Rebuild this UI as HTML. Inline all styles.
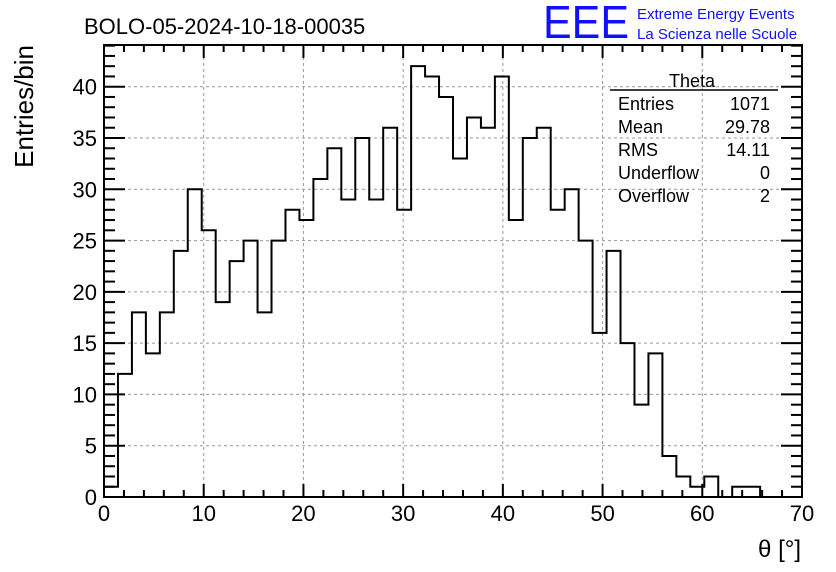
<!DOCTYPE html>
<html><head><meta charset="utf-8"><style>
body{margin:0;background:#fff}
svg{display:block;font-family:"Liberation Sans",sans-serif}
</style></head><body>
<svg id="c" width="836" height="572">
<rect width="836" height="572" fill="#fff"/>
<text x="84" y="34" font-size="22">BOLO-05-2024-10-18-00035</text>
<text x="543" y="38" font-size="46" fill="#1010ff" textLength="86" lengthAdjust="spacingAndGlyphs">EEE</text>
<text x="637" y="19" font-size="15" fill="#1010ff">Extreme Energy Events</text>
<text x="637" y="39" font-size="15" fill="#1010ff">La Scienza nelle Scuole</text>
<g id="grid"></g>
<g id="ticks"></g>
<path id="hist" fill="none" stroke="#000" stroke-width="2"/>
<rect x="104" y="45" width="698" height="452" fill="none" stroke="#000" stroke-width="2"/>
<text x="33" y="45" font-size="26" transform="rotate(-90 33 45)" text-anchor="end">Entries/bin</text>
<text x="801" y="557" font-size="24" text-anchor="end">θ [°]</text>
<g font-size="18">
<line x1="610" y1="90" x2="778" y2="90" stroke="#000" stroke-width="1.5"/>
<text x="692" y="87" text-anchor="middle">Theta</text>
<text x="618" y="110">Entries</text><text x="770" y="110" text-anchor="end">1071</text>
<text x="618" y="133">Mean</text><text x="770" y="133" text-anchor="end">29.78</text>
<text x="618" y="156">RMS</text><text x="770" y="156" text-anchor="end">14.11</text>
<text x="618" y="179">Underflow</text><text x="770" y="179" text-anchor="end">0</text>
<text x="618" y="202">Overflow</text><text x="770" y="202" text-anchor="end">2</text>
</g>
</svg>
<script>
const binWidth = 1.4;
const counts = [1,12,18,14,18,24,30,26,19,23,25,18,25,28,27,31,34,29,35,29,36,28,42,41,39,33,37,36,41,27,35,36,28,30,25,16,24,15,9,14,4,2,1,2,0,1,1];
const xTicks = [0,10,20,30,40,50,60,70];
const yTicks = [0,5,10,15,20,25,30,35,40];
const X0=104,X1=802,Y0=497,Y1=86.7;
const xs=v=>X0+(X1-X0)*v/70;
const ys=v=>Y0+(Y1-Y0)*v/40;
const NS='http://www.w3.org/2000/svg';
const svg=document.getElementById('c');
const grid=document.getElementById('grid'), tk=document.getElementById('ticks');
function mk(tag,attrs,parent){const e=document.createElementNS(NS,tag);for(const k in attrs)e.setAttribute(k,attrs[k]);parent.appendChild(e);return e;}
xTicks.forEach(t=>{
  const x=xs(t);
  if(t>0&&t<70){const g=mk('line',{x1:x,x2:x,y1:45,y2:497,stroke:'#999','stroke-dasharray':'3,3'},grid);
  
  }
  const l=mk('text',{x:x,y:521,'font-size':22,'text-anchor':'middle'},svg);
  l.textContent=t;
  
  
});
for(let v=0;v<=70;v+=2){const x=xs(v),L=v%10==0?13:7;
  mk('line',{x1:x,x2:x,y1:497,y2:497-L,stroke:'#000','stroke-width':2},tk);
  mk('line',{x1:x,x2:x,y1:45,y2:45+L,stroke:'#000','stroke-width':2},tk);}
yTicks.forEach(t=>{
  const y=ys(t);
  if(t>0){const g=mk('line',{x1:104,x2:802,y1:y,y2:y,stroke:'#999','stroke-dasharray':'3,3'},grid);
  
  }
  const l=mk('text',{x:97,y:y+8,'font-size':22,'text-anchor':'end'},svg);
  l.textContent=t;
  
  
});
for(let v=0;v<=44;v++){const y=ys(v);if(y<45)break;const L=v%5==0?21:11;
  mk('line',{x1:104,x2:104+L,y1:y,y2:y,stroke:'#000','stroke-width':2},tk);
  mk('line',{x1:802,x2:802-L,y1:y,y2:y,stroke:'#000','stroke-width':2},tk);}
let d='M'+xs(0)+','+ys(0);
counts.forEach((c,i)=>{d+=' L'+xs(i*binWidth)+','+ys(c)+' L'+xs((i+1)*binWidth)+','+ys(c);});
d+=' L'+xs(counts.length*binWidth)+','+ys(0);
document.getElementById('hist').setAttribute('d',d);
</script>
</body></html>
